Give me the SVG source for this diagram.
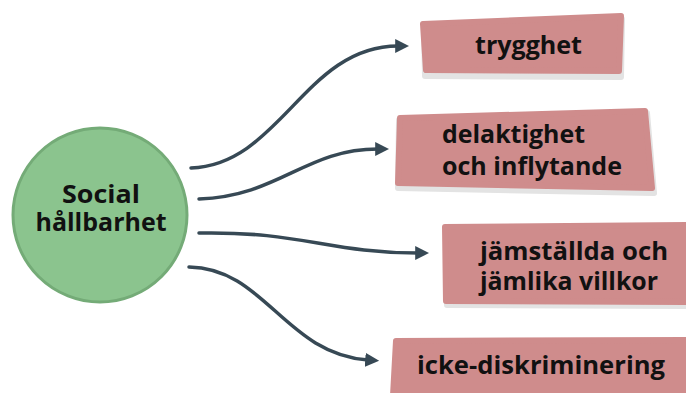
<svg xmlns="http://www.w3.org/2000/svg" width="686" height="393" viewBox="0 0 686 393">
<style>
.box{fill:#cf8c8c;stroke:#cf8c8c;stroke-width:6;stroke-linejoin:round}
.shadow{fill:#e3e3e3;stroke:#e3e3e3;stroke-width:6;stroke-linejoin:round}
.lbl{font-family:"Open Sans","Liberation Sans",sans-serif;font-weight:700;font-size:25px;fill:#111}
.conn{fill:none;stroke:#374955;stroke-width:3.5;stroke-linecap:round}
</style>
<defs>
<marker id="arr" viewBox="0 0 10 10" refX="2" refY="5" markerWidth="4" markerHeight="4" orient="auto" markerUnits="strokeWidth">
<path d="M0,0 L10,5 L0,10 Z" fill="#374955"/>
</marker>
</defs>
<rect width="686" height="393" fill="#fff"/>
<g id="connectors">
<path class="conn" d="M191,168 C280,165 305,46 398,46" marker-end="url(#arr)"/>
<path class="conn" d="M199,199 C280,196 305,149 378,149" marker-end="url(#arr)"/>
<path class="conn" d="M199,233 C300,231 330,253 418,253" marker-end="url(#arr)"/>
<path class="conn" d="M189,267 C265,268 285,354 368,360" marker-end="url(#arr)"/>
</g>
<g id="center">
<circle cx="100" cy="215" r="87" fill="#8bc48e" stroke="#74ab77" stroke-width="3"/>
<text class="lbl" x="101" y="203" text-anchor="middle" textLength="78" lengthAdjust="spacingAndGlyphs">Social</text>
<text class="lbl" x="101" y="231" text-anchor="middle" textLength="131" lengthAdjust="spacingAndGlyphs">hållbarhet</text>
</g>
<g id="n1">
<polygon class="shadow" points="424,26 622,19 621,77 425,76"/>
<polygon class="box" points="423,24 621,16 619,71 426,70"/>
<text class="lbl" x="475" y="54" textLength="107" lengthAdjust="spacingAndGlyphs">trygghet</text>
</g>
<g id="n2">
<polygon class="shadow" points="399,120 647,113 654,193 398,188"/>
<polygon class="box" points="400,118 645,111 652,188 398,183"/>
<text class="lbl" x="442" y="143" textLength="143" lengthAdjust="spacingAndGlyphs">delaktighet</text>
<text class="lbl" x="442" y="175" textLength="180" lengthAdjust="spacingAndGlyphs">och inflytande</text>
</g>
<g id="n3">
<polygon class="shadow" points="446,229 690,227 690,306 447,305"/>
<polygon class="box" points="445,227 689,225 689,302 446,301"/>
<text class="lbl" x="480" y="260" textLength="188" lengthAdjust="spacingAndGlyphs">jämställda och</text>
<text class="lbl" x="480" y="290" textLength="178" lengthAdjust="spacingAndGlyphs">jämlika villkor</text>
</g>
<g id="n4">
<polygon class="box" points="396,341 689,340 689,396 393,396"/>
<text class="lbl" x="417" y="374" textLength="248" lengthAdjust="spacingAndGlyphs">icke-diskriminering</text>
</g>
</svg>
